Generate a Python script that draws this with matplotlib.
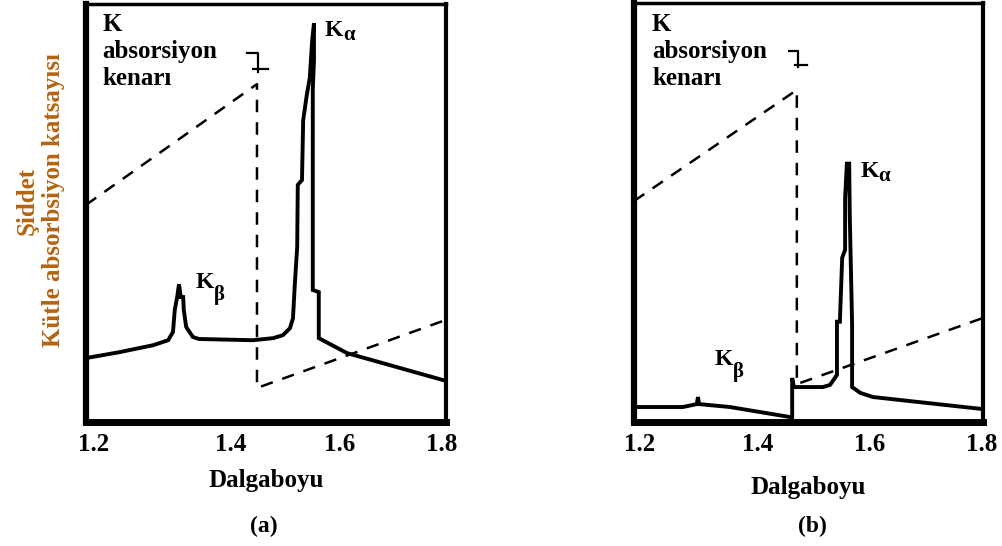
import matplotlib
matplotlib.use("Agg")
import matplotlib.pyplot as plt

plt.rcParams['font.family'] = ['Liberation Serif', 'DejaVu Serif']
plt.rcParams['font.weight'] = 'bold'

# --- (a) yogunluk egrisi ve kutle absorbsiyon katsayisi ---
a_wl = [1.200, 1.255, 1.312, 1.337, 1.345, 1.348, 1.352, 1.355, 1.358, 1.362,
        1.363, 1.367, 1.378, 1.388, 1.478, 1.512, 1.528, 1.540, 1.545, 1.548,
        1.552, 1.553, 1.560, 1.562, 1.568, 1.573, 1.577, 1.580, 1.580, 1.578,
        1.578, 1.588, 1.588, 1.635, 1.800]
a_int = [14.7, 16.1, 17.8, 19.0, 21.0, 26.3, 29.4, 32.5, 29.4, 29.4,
         26.3, 22.2, 19.8, 19.3, 19.0, 19.5, 20.2, 21.9, 24.3, 32.3,
         41.4, 56.4, 57.6, 72.0, 78.1, 82.2, 91.3, 95.4, 86.5, 79.3,
         31.1, 30.6, 19.5, 15.9, 9.2]
a_mu_wl = [1.200, 1.485, 1.485, 1.800]
a_mu = [51.6, 80.7, 7.5, 23.9]

# --- (b) filtreli ---
b_wl = [1.200, 1.284, 1.308, 1.310, 1.312, 1.365, 1.468, 1.472, 1.472, 1.475,
        1.525, 1.537, 1.549, 1.549, 1.554, 1.558, 1.563, 1.563, 1.566, 1.570,
        1.571, 1.575, 1.575, 1.589, 1.611, 1.800]
b_int = [2.9, 2.9, 3.6, 5.3, 3.6, 2.9, 0.5, 0.5, 9.9, 7.7,
         7.7, 8.2, 10.6, 23.4, 23.4, 38.8, 40.7, 53.0, 61.4, 61.4,
         48.9, 22.9, 7.7, 6.3, 5.3, 2.4]
b_mu_wl = [1.200, 1.480, 1.480, 1.800]
b_mu = [52.4, 79.1, 8.4, 24.3]

tick_labels = ['1.2', '1.4', '1.6', '1.8']
a_ticks = [1.212, 1.442, 1.622, 1.792]
b_ticks = [1.209, 1.413, 1.606, 1.797]

fig = plt.figure(figsize=(10.02, 5.46), dpi=100)
ax1 = fig.add_axes([0.0858, 0.2271, 0.3593, 0.7656])
ax2 = fig.add_axes([0.6327, 0.2271, 0.3483, 0.7674])

def setup(ax, ticks, lpad):
    ax.set_xlim(1.2, 1.8)
    ax.set_ylim(-0.7, 100)
    ax.set_yticks([])
    ax.set_xticks(ticks)
    ax.set_xticklabels(tick_labels, fontsize=18, fontweight='bold')
    ax.tick_params(axis='x', length=0, pad=8)
    ax.spines['left'].set_linewidth(4.5)
    ax.spines['bottom'].set_linewidth(5)
    ax.spines['top'].set_linewidth(2.5)
    ax.spines['right'].set_linewidth(3)
    ax.set_xlabel('Dalgaboyu', fontsize=18, fontweight='bold', labelpad=lpad)

setup(ax1, a_ticks, 9)
setup(ax2, b_ticks, 14)

ax1.plot(a_wl, a_int, color='black', lw=2.8, solid_joinstyle='miter')
ax1.plot(a_mu_wl, a_mu, color='black', lw=1.8, dashes=(5, 4))
ax2.plot(b_wl, b_int, color='black', lw=2.8, solid_joinstyle='miter')
ax2.plot(b_mu_wl, b_mu, color='black', lw=1.8, dashes=(5, 4))

# kenar oku
ax1.plot([1.468, 1.487, 1.487], [88.2, 88.2, 83.6], color='black', lw=1.6)
ax1.plot([1.478, 1.503], [84.3, 84.3], color='black', lw=1.6)
ax2.plot([1.466, 1.482, 1.482], [88.4, 88.4, 84.6], color='black', lw=1.6)
ax2.plot([1.477, 1.497], [85.1, 85.1], color='black', lw=1.6)

txt = dict(fontsize=18, fontweight='bold', color='black')
ax1.text(1.227, 97.8, 'K\nabsorsiyon\nkenarı', va='top', ha='left', linespacing=1.23, **txt)
ax2.text(1.231, 97.6, 'K\nabsorsiyon\nkenarı', va='top', ha='left', linespacing=1.23, **txt)

def k_label(ax, x, y, sub, drop):
    ax.text(x, y, 'K', fontsize=17, fontweight='bold', va='baseline', ha='left')
    ax.annotate(sub, xy=(x, y), xytext=(13.2, -drop), textcoords='offset points',
                fontsize=15, fontweight='bold', va='baseline', ha='left')

k_label(ax1, 1.598, 92.3, 'α', 3)
k_label(ax1, 1.383, 31.6, 'β', 8.5)
k_label(ax2, 1.589, 58.2, 'α', 3)
k_label(ax2, 1.339, 13.0, 'β', 8.5)

ax1.set_ylabel('Şiddet\nKütle absorbsiyon katsayısı', fontsize=18, fontweight='bold',
               color='#B4640F', linespacing=1.2)
ax1.yaxis.set_label_coords(-0.057, 0.53)

fig.text(264 / 1002, 1 - 526 / 546, '(a)', fontsize=17, fontweight='bold', ha='center', va='center')
fig.text(812 / 1002, 1 - 526 / 546, '(b)', fontsize=17, fontweight='bold', ha='center', va='center')

fig.savefig('out.png', dpi=100)
